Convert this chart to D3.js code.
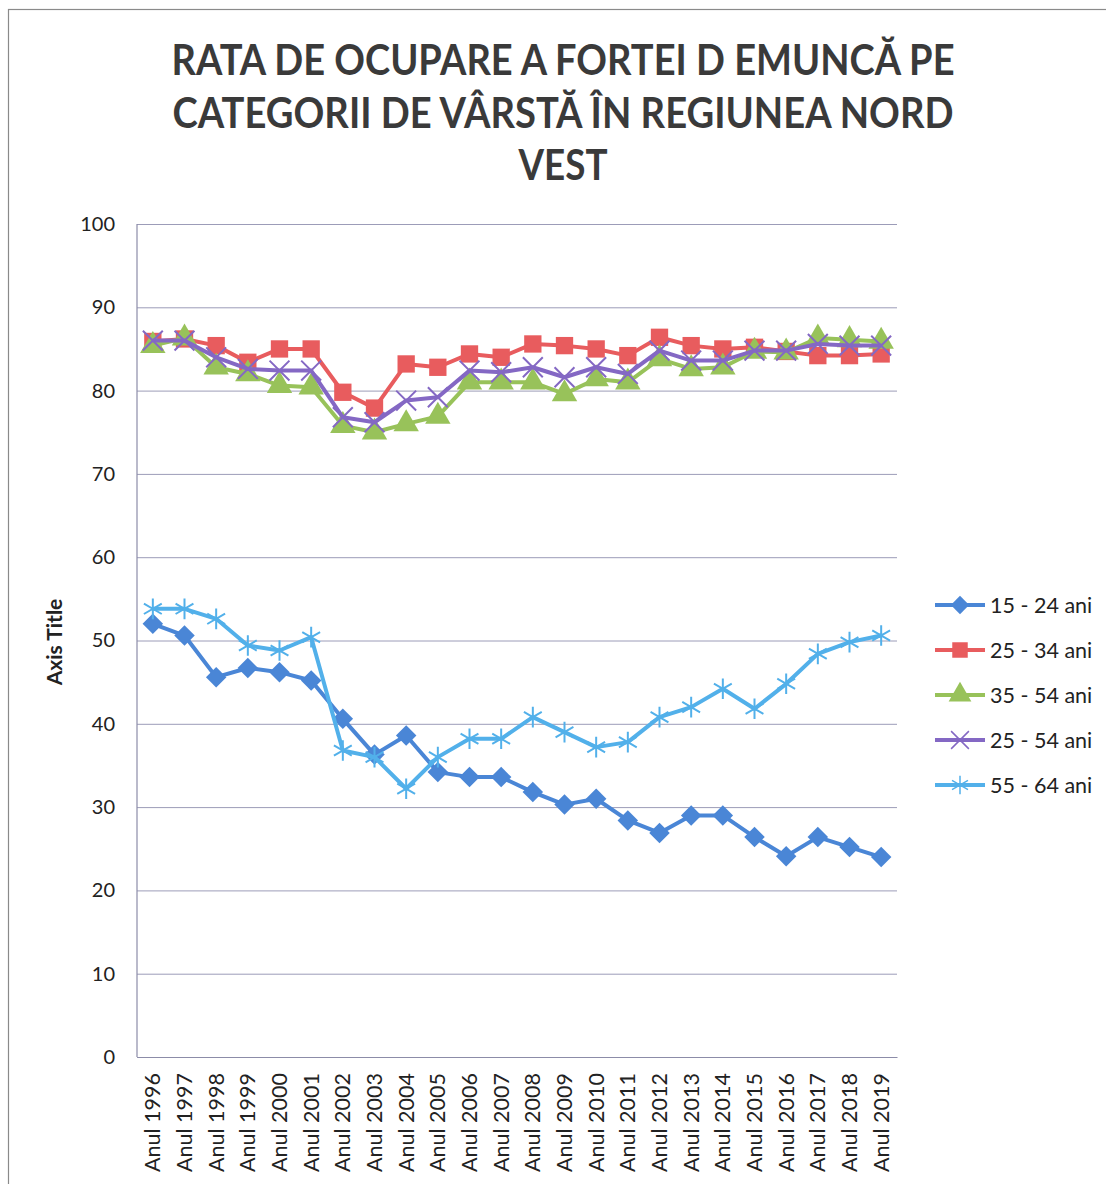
<!DOCTYPE html>
<html lang="ro">
<head>
  <meta charset="UTF-8" />
  <title>Rata de ocupare - Nord Vest</title>
  <script src="https://d3js.org/d3.v7.min.js"></script>
  <style>
    body {
      margin: 0;
      background: #fff;
      font-family: Lato, "Open Sans", sans-serif;
    }
    svg {
      display: block;
    }
  </style>
</head>
<body>
  <div id="chart"></div>

  <script>
    const years = ["Anul 1996", "Anul 1997", "Anul 1998", "Anul 1999", "Anul 2000", "Anul 2001",
      "Anul 2002", "Anul 2003", "Anul 2004", "Anul 2005", "Anul 2006", "Anul 2007",
      "Anul 2008", "Anul 2009", "Anul 2010", "Anul 2011", "Anul 2012", "Anul 2013",
      "Anul 2014", "Anul 2015", "Anul 2016", "Anul 2017", "Anul 2018", "Anul 2019"];

    const seriesNames = ["15 - 24 ani", "25 - 34 ani", "35 - 54 ani", "25 - 54 ani", "55 - 64 ani"];

    const age15_24 = [52.0, 50.6, 45.6, 46.7, 46.2, 45.2, 40.6, 36.3, 38.6, 34.2, 33.6, 33.6,
      31.8, 30.3, 31.0, 28.4, 26.9, 29.0, 29.0, 26.4, 24.1, 26.4, 25.2, 24.0];
    const age25_34 = [85.9, 86.2, 85.4, 83.4, 85.0, 85.0, 79.8, 77.9, 83.2, 82.8, 84.4, 84.0,
      85.6, 85.4, 85.0, 84.2, 86.4, 85.4, 85.0, 85.2, 84.7, 84.2, 84.2, 84.4];
    const age35_54 = [85.4, 86.3, 82.8, 82.0, 80.6, 80.4, 75.8, 75.0, 76.0, 76.9, 81.0, 81.0,
      81.0, 79.6, 81.4, 81.0, 83.8, 82.6, 82.8, 84.7, 84.6, 86.3, 86.1, 85.9];
    const age25_54 = [86.0, 86.0, 84.0, 82.6, 82.4, 82.4, 76.8, 76.2, 78.8, 79.2, 82.4, 82.2,
      82.8, 81.6, 82.8, 82.0, 84.8, 83.6, 83.6, 84.8, 84.8, 85.6, 85.4, 85.4];
    const age55_64 = [53.8, 53.8, 52.6, 49.4, 48.8, 50.4, 36.8, 36.0, 32.2, 36.0, 38.2, 38.2,
      40.8, 39.0, 37.2, 37.8, 40.8, 42.0, 44.2, 41.8, 44.8, 48.4, 49.8, 50.6];

    const yTicks = [0, 10, 20, 30, 40, 50, 60, 70, 80, 90, 100];

    const titleLines = ["RATA DE OCUPARE A FORTEI D EMUNCĂ PE",
      "CATEGORII DE VÂRSTĂ ÎN REGIUNEA NORD", "VEST"];

    const width = 1106;
    const height = 1184;
    const margin = { top: 224, right: 209, bottom: 127, left: 137 };
    const innerW = width - margin.left - margin.right;
    const innerH = height - margin.top - margin.bottom;

    const svg = d3.select("#chart")
      .append("svg")
      .attr("width", width)
      .attr("height", height);

    // outer chart frame
    svg.append("rect")
      .attr("x", 8.5)
      .attr("y", 9.5)
      .attr("width", width + 10)
      .attr("height", height + 10)
      .attr("fill", "none")
      .attr("stroke", "#8a8a8a")
      .attr("stroke-width", 1.2);

    // title
    const titleWidths = [783, 781, 89];
    svg.append("g")
      .selectAll("text")
      .data(titleLines)
      .enter()
      .append("text")
      .attr("x", 563)
      .attr("y", (d, i) => 75 + i * 52.5)
      .attr("text-anchor", "middle")
      .attr("font-size", 42)
      .attr("font-weight", "bold")
      .attr("fill", "#3a3a3a")
      .attr("textLength", (d, i) => titleWidths[i])
      .attr("lengthAdjust", "spacingAndGlyphs")
      .text(d => d);

    const g = svg.append("g")
      .attr("transform", `translate(${margin.left},${margin.top})`);

    const x = d3.scaleBand()
      .domain(years)
      .range([0, innerW]);

    const y = d3.scaleLinear()
      .domain([0, 100])
      .range([innerH, 0]);

    const cx = d => x(d) + x.bandwidth() / 2;

    // gridlines + y axis
    const yAxis = g.append("g")
      .call(d3.axisLeft(y).tickValues(yTicks).tickSize(-innerW).tickSizeOuter(0).tickPadding(22));
    yAxis.select(".domain").remove();
    yAxis.selectAll(".tick line")
      .attr("stroke", "#9c9cb8")
      .attr("stroke-width", 1);
    yAxis.selectAll(".tick text")
      .attr("font-family", "Lato, sans-serif")
      .attr("font-size", 20)
      .attr("fill", "#222");

    // left axis line
    g.append("line")
      .attr("x1", 0).attr("x2", 0)
      .attr("y1", 0).attr("y2", innerH)
      .attr("stroke", "#8c8ca8")
      .attr("stroke-width", 1.2);

    // x axis
    const xAxis = g.append("g")
      .attr("transform", `translate(0,${innerH})`)
      .call(d3.axisBottom(x).tickSize(0).tickPadding(0));
    xAxis.select(".domain")
      .attr("stroke", "#8c8ca8")
      .attr("stroke-width", 1.2);
    xAxis.selectAll(".tick text")
      .attr("font-family", "Lato, sans-serif")
      .attr("font-size", 21.5)
      .attr("fill", "#222")
      .attr("text-anchor", "end")
      .attr("transform", "rotate(-90)")
      .attr("x", -16)
      .attr("y", 0)
      .attr("dy", "0.35em");

    // y axis title
    svg.append("text")
      .attr("transform", "translate(62,642) rotate(-90)")
      .attr("text-anchor", "middle")
      .attr("font-size", 21)
      .attr("font-weight", "bold")
      .attr("fill", "#222")
      .text("Axis Title");

    const series = [
      { name: seriesNames[0], values: age15_24, color: "#4a86d6", symbol: d3.symbolSquare, size: 210, rotate: 45, stroke: false },
      { name: seriesNames[1], values: age25_34, color: "#e85c5e", symbol: d3.symbolSquare, size: 300, rotate: 0, stroke: false },
      { name: seriesNames[2], values: age35_54, color: "#98c25a", symbol: d3.symbolTriangle, size: 280, rotate: 0, stroke: false },
      { name: seriesNames[3], values: age25_54, color: "#8468c4", symbol: d3.symbolTimes, size: 260, rotate: 0, stroke: true },
      { name: seriesNames[4], values: age55_64, color: "#52b0ea", symbol: d3.symbolAsterisk, size: 300, rotate: 0, stroke: true }
    ];

    const line = d3.line()
      .x((d, i) => cx(years[i]))
      .y(d => y(d));

    series.forEach(s => {
      g.append("path")
        .datum(s.values)
        .attr("d", line)
        .attr("fill", "none")
        .attr("stroke", s.color)
        .attr("stroke-width", 4)
        .attr("stroke-linejoin", "round");

      const sym = d3.symbol().type(s.symbol).size(s.size);
      g.append("g")
        .selectAll("path")
        .data(s.values)
        .enter()
        .append("path")
        .attr("transform", (d, i) => `translate(${cx(years[i])},${y(d)}) rotate(${s.rotate})`)
        .attr("d", sym)
        .attr("fill", s.stroke ? "none" : s.color)
        .attr("stroke", s.color)
        .attr("stroke-width", s.stroke ? 2 : 0);
    });

    // legend
    const legend = svg.append("g")
      .attr("transform", "translate(935,605)");

    const rows = legend.selectAll("g")
      .data(series)
      .enter()
      .append("g")
      .attr("transform", (d, i) => `translate(0,${i * 45})`);

    rows.append("line")
      .attr("x1", 0).attr("x2", 50)
      .attr("stroke", d => d.color)
      .attr("stroke-width", 4);

    rows.append("path")
      .attr("transform", d => `translate(25,0) rotate(${d.rotate})`)
      .attr("d", d => d3.symbol().type(d.symbol).size(d.size * 0.8)())
      .attr("fill", d => d.stroke ? "none" : d.color)
      .attr("stroke", d => d.color)
      .attr("stroke-width", d => d.stroke ? 1.5 : 0);

    rows.append("text")
      .attr("x", 55)
      .attr("dy", "0.35em")
      .attr("font-size", 21.5)
      .attr("fill", "#222")
      .text(d => d.name);
  </script>
</body>
</html>
